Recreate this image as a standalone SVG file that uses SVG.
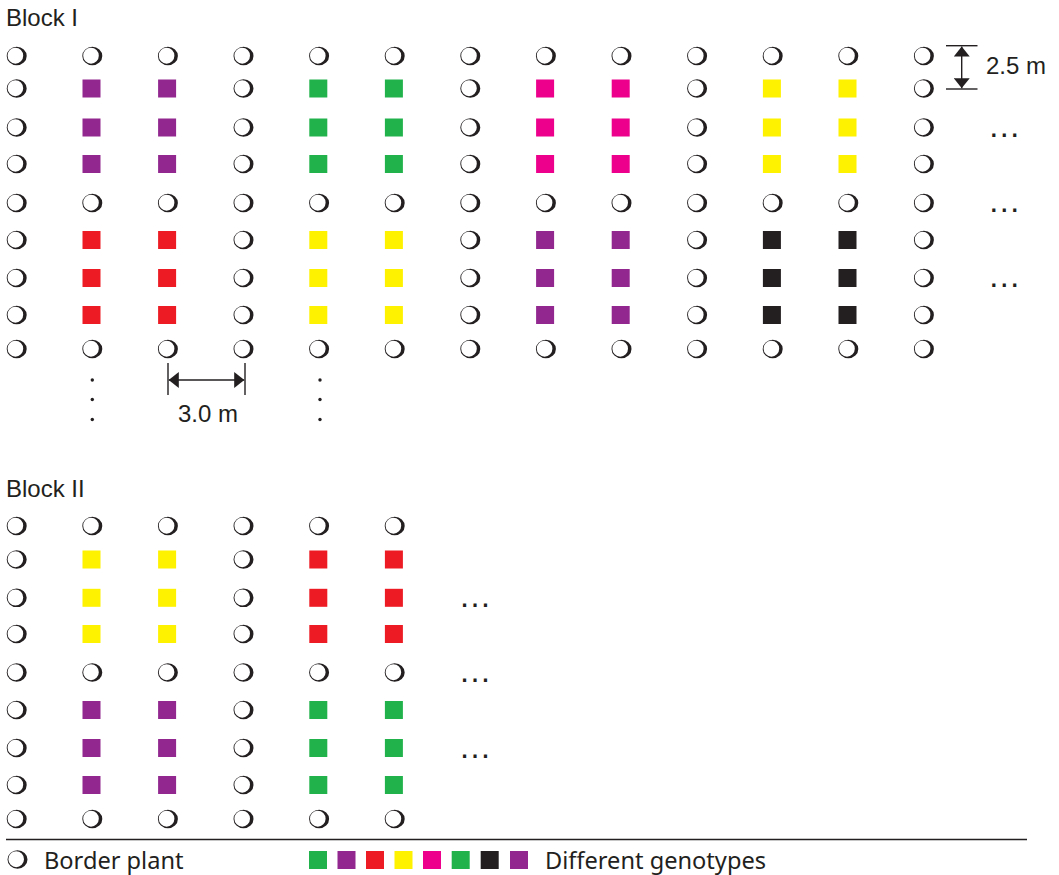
<svg xmlns="http://www.w3.org/2000/svg" xmlns:xlink="http://www.w3.org/1999/xlink" width="1059" height="875" viewBox="0 0 1059 875">
<style>
.lbl{font-family:"Liberation Sans",Arial,sans-serif;font-size:24px;fill:#231f20}
.leg{font-family:"Noto Sans","Open Sans",sans-serif;font-size:23.6px;fill:#231f20}
.ell{font-family:"Liberation Sans",Arial,sans-serif;font-size:33px;fill:#231f20;text-anchor:middle}
.g{fill:#22b24c}.p{fill:#92278f}.r{fill:#ed1c24}.y{fill:#fff200}.m{fill:#ec008c}.k{fill:#231f20}
.dim{stroke:#231f20;stroke-width:1.4;fill:none}
.dot{fill:#231f20}
</style>
<defs>
<marker id="ah" viewBox="0 0 10 16" refX="10" refY="8" markerWidth="10" markerHeight="16" markerUnits="userSpaceOnUse" orient="auto-start-reverse">
<path d="M0,0 L10,8 L0,16 Z" fill="#231f20"/>
</marker>
<path id="bp" fill="#231f20" fill-rule="evenodd" d="M-9.5,0 A10,9.3 0 1 0 10.5,0 A10,9.3 0 1 0 -9.5,0 Z M-8.6,-0.3 A7.8,8 0 1 0 7,-0.3 A7.8,8 0 1 0 -8.6,-0.3 Z"/>
<g id="ring13">
<use href="#bp" x="16.2"/><use href="#bp" x="91.8"/><use href="#bp" x="167.4"/><use href="#bp" x="243"/><use href="#bp" x="318.6"/><use href="#bp" x="394.2"/><use href="#bp" x="469.8"/><use href="#bp" x="545.4"/><use href="#bp" x="621"/><use href="#bp" x="696.6"/><use href="#bp" x="772.2"/><use href="#bp" x="847.8"/><use href="#bp" x="923.4"/>
</g>
<g id="ring6">
<use href="#bp" x="16.2"/><use href="#bp" x="91.8"/><use href="#bp" x="167.4"/><use href="#bp" x="243"/><use href="#bp" x="318.6"/><use href="#bp" x="394.2"/>
</g>
<g id="sep13">
<use href="#bp" x="16.2"/><use href="#bp" x="243"/><use href="#bp" x="469.8"/><use href="#bp" x="696.6"/><use href="#bp" x="923.4"/>
</g>
<g id="sep6">
<use href="#bp" x="16.2"/><use href="#bp" x="243"/>
</g>
<g id="rowA">
<use href="#sep13"/>
<rect class="p" x="82.5" y="-9" width="18" height="18"/><rect class="p" x="158.1" y="-9" width="18" height="18"/>
<rect class="g" x="309.3" y="-9" width="18" height="18"/><rect class="g" x="384.9" y="-9" width="18" height="18"/>
<rect class="m" x="536.1" y="-9" width="18" height="18"/><rect class="m" x="611.7" y="-9" width="18" height="18"/>
<rect class="y" x="762.9" y="-9" width="18" height="18"/><rect class="y" x="838.5" y="-9" width="18" height="18"/>
</g>
<g id="rowB">
<use href="#sep13"/>
<rect class="r" x="82.5" y="-9" width="18" height="18"/><rect class="r" x="158.1" y="-9" width="18" height="18"/>
<rect class="y" x="309.3" y="-9" width="18" height="18"/><rect class="y" x="384.9" y="-9" width="18" height="18"/>
<rect class="p" x="536.1" y="-9" width="18" height="18"/><rect class="p" x="611.7" y="-9" width="18" height="18"/>
<rect class="k" x="762.9" y="-9" width="18" height="18"/><rect class="k" x="838.5" y="-9" width="18" height="18"/>
</g>
<g id="rowC">
<use href="#sep6"/>
<rect class="y" x="82.5" y="-9" width="18" height="18"/><rect class="y" x="158.1" y="-9" width="18" height="18"/>
<rect class="r" x="309.3" y="-9" width="18" height="18"/><rect class="r" x="384.9" y="-9" width="18" height="18"/>
</g>
<g id="rowD">
<use href="#sep6"/>
<rect class="p" x="82.5" y="-9" width="18" height="18"/><rect class="p" x="158.1" y="-9" width="18" height="18"/>
<rect class="g" x="309.3" y="-9" width="18" height="18"/><rect class="g" x="384.9" y="-9" width="18" height="18"/>
</g>
</defs>
<rect width="1059" height="875" fill="#ffffff"/>

<g id="block1">
<text class="lbl" x="6" y="25.5">Block I</text>
<use href="#ring13" y="56"/>
<use href="#rowA" y="88.5"/>
<use href="#rowA" y="127.5"/>
<use href="#rowA" y="164"/>
<use href="#ring13" y="203"/>
<use href="#rowB" y="240"/>
<use href="#rowB" y="278"/>
<use href="#rowB" y="315"/>
<use href="#ring13" y="349"/>
<text class="ell" x="1004.3" y="137">…</text>
<text class="ell" x="1004.3" y="212">…</text>
<text class="ell" x="1004.3" y="287">…</text>
<circle class="dot" cx="92.3" cy="380" r="1.7"/><circle class="dot" cx="92.3" cy="399.5" r="1.7"/><circle class="dot" cx="92.3" cy="419.5" r="1.7"/>
<circle class="dot" cx="320" cy="380" r="1.7"/><circle class="dot" cx="320" cy="399.5" r="1.7"/><circle class="dot" cx="320" cy="419.5" r="1.7"/>
</g>

<g id="dimensions">
<line class="dim" x1="946" y1="45.7" x2="977.5" y2="45.7"/>
<line class="dim" x1="946" y1="89" x2="977.5" y2="89"/>
<line class="dim" x1="961.7" y1="46.5" x2="961.7" y2="88.2" marker-start="url(#ah)" marker-end="url(#ah)"/>
<text class="lbl" x="986" y="74">2.5 m</text>
<line class="dim" x1="168" y1="363" x2="168" y2="395"/>
<line class="dim" x1="245" y1="363" x2="245" y2="395"/>
<line class="dim" x1="168.8" y1="380" x2="244.2" y2="380" marker-start="url(#ah)" marker-end="url(#ah)"/>
<text class="lbl" x="208" y="421.5" text-anchor="middle">3.0 m</text>
</g>

<g id="block2">
<text class="lbl" x="6" y="496.7">Block II</text>
<use href="#ring6" y="526"/>
<use href="#rowC" y="559.5"/>
<use href="#rowC" y="597.8"/>
<use href="#rowC" y="634"/>
<use href="#ring6" y="672.5"/>
<use href="#rowD" y="710"/>
<use href="#rowD" y="748"/>
<use href="#rowD" y="785"/>
<use href="#ring6" y="819"/>
<text class="ell" x="475" y="607">…</text>
<text class="ell" x="475" y="682">…</text>
<text class="ell" x="475" y="758">…</text>
</g>

<g id="legend">
<line x1="6" y1="839.5" x2="1027" y2="839.5" stroke="#231f20" stroke-width="1.3"/>
<use href="#bp" x="17" y="859.5"/>
<text class="leg" x="44" y="868.5">Border plant</text>
<rect class="g" x="309" y="851" width="18" height="18"/>
<rect class="p" x="337.5" y="851" width="18" height="18"/>
<rect class="r" x="366" y="851" width="18" height="18"/>
<rect class="y" x="394.5" y="851" width="18" height="18"/>
<rect class="m" x="423" y="851" width="18" height="18"/>
<rect class="g" x="451.7" y="851" width="18" height="18"/>
<rect class="k" x="480.7" y="851" width="18" height="18"/>
<rect class="p" x="510" y="851" width="18" height="18"/>
<text class="leg" x="545" y="868.5">Different genotypes</text>
</g>
</svg>
